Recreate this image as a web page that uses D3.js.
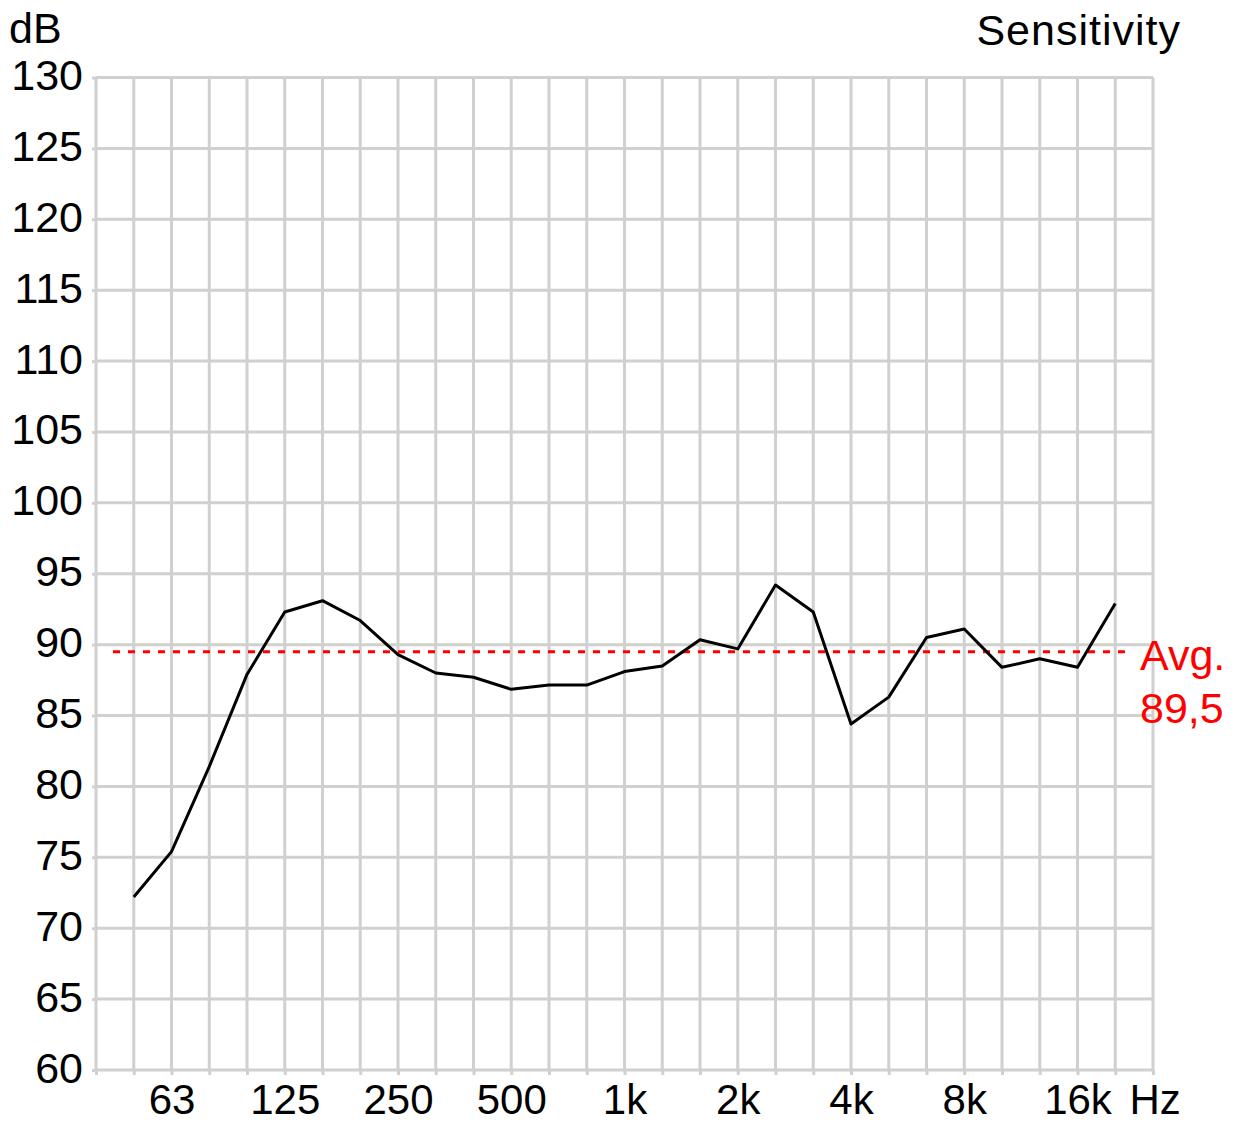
<!DOCTYPE html>
<html>
<head>
<meta charset="utf-8">
<script src="https://cdn.jsdelivr.net/npm/d3@7"></script>
<style>
  html, body { margin: 0; padding: 0; background: #fff; }
  svg { display: block; font-family: "Liberation Sans", Arial, sans-serif; }
</style>
</head>
<body>
<svg id="chart" width="1236" height="1124"></svg>
<script>
// 1/3-octave band names, index 0 (40 Hz) .. 28 (25 kHz) are the plot edges
const bands = ["40","50","63","80","100","125","160","200","250","315","400","500","630","800",
  "1k","1.25k","1.6k","2k","2.5k","3.15k","4k","5k","6.3k","8k","10k","12.5k","16k","20k","25k"];
// measured sensitivity (dB) from 50 Hz to 20 kHz
const measuredBands = ["50","63","80","100","125","160","200","250","315","400","500","630","800",
  "1k","1.25k","1.6k","2k","2.5k","3.15k","4k","5k","6.3k","8k","10k","12.5k","16k","20k"];
const sensitivity = [72.2, 75.4, 81.4, 87.9, 92.3, 93.1, 91.7, 89.3, 88.0, 87.7, 86.85, 87.15, 87.15,
  88.1, 88.5, 90.35, 89.7, 94.2, 92.3, 84.4, 86.3, 90.5, 91.1, 88.4, 89.0, 88.4, 92.9];
const xTickLabels = ["63","125","250","500","1k","2k","4k","8k","16k"];
const yTicks = [60,65,70,75,80,85,90,95,100,105,110,115,120,125,130];
const average = 89.5;
const avgLabel = ["Avg.", "89,5"];

const svg = d3.select("#chart");
const M = { left: 96, right: 1153, top: 77.5, bottom: 1070 };
const x = d3.scaleLinear().domain([0, bands.length - 1]).range([M.left, M.right]);
const y = d3.scaleLinear().domain([60, 130]).range([M.bottom, M.top]);
const gridColor = "#d0d0d0";
const gridWidth = 3;
const fontSize = 43;

// grid
const grid = svg.append("g");
grid.selectAll("line.v").data(d3.range(bands.length)).enter().append("line")
  .attr("class", "v")
  .attr("x1", d => x(d)).attr("x2", d => x(d))
  .attr("y1", M.top).attr("y2", M.bottom)
  .attr("stroke", gridColor).attr("stroke-width", gridWidth);
grid.selectAll("line.h").data(yTicks).enter().append("line")
  .attr("class", "h")
  .attr("x1", M.left).attr("x2", M.right)
  .attr("y1", d => y(d)).attr("y2", d => y(d))
  .attr("stroke", gridColor).attr("stroke-width", gridWidth);

// x axis
const xAxis = d3.axisBottom(x)
  .tickValues(d3.range(bands.length))
  .tickSize(5)
  .tickFormat(i => xTickLabels.includes(bands[i]) ? bands[i] : "");
const gx = svg.append("g").attr("transform", `translate(0,${M.bottom})`).call(xAxis);
gx.select(".domain").remove();
gx.selectAll(".tick line").attr("stroke", gridColor).attr("stroke-width", gridWidth);
gx.selectAll(".tick text").attr("y", 44).attr("dy", 0)
  .attr("font-size", fontSize - 1).attr("fill", "#000")
  .attr("font-family", "Liberation Sans, Arial, sans-serif");
svg.append("text").attr("x", x(26) + 52).attr("y", M.bottom + 44)
  .attr("font-size", fontSize - 1).attr("fill", "#000").text("Hz");

// y axis
const yAxis = d3.axisLeft(y).tickValues(yTicks).tickSize(4).tickPadding(9);
const gy = svg.append("g").attr("transform", `translate(${M.left},0)`).call(yAxis);
gy.select(".domain").remove();
gy.selectAll(".tick line").attr("stroke", gridColor).attr("stroke-width", gridWidth);
gy.selectAll(".tick text").attr("dy", 12)
  .attr("font-size", fontSize).attr("fill", "#000")
  .attr("font-family", "Liberation Sans, Arial, sans-serif");

// titles
svg.append("text").attr("x", 9).attr("y", 43).attr("font-size", fontSize).attr("fill", "#000").text("dB");
svg.append("text").attr("x", 1181).attr("y", 45).attr("text-anchor", "end")
  .attr("letter-spacing", 1)
  .attr("font-size", fontSize).attr("fill", "#000").text("Sensitivity");

// average line
svg.append("line")
  .attr("x1", x(0.45)).attr("x2", x(27.35))
  .attr("y1", y(average)).attr("y2", y(average))
  .attr("stroke", "#ff0000").attr("stroke-width", 3)
  .attr("stroke-dasharray", "7,8");
svg.selectAll("text.avg").data(avgLabel).enter().append("text")
  .attr("class", "avg")
  .attr("x", 1140).attr("y", (d, i) => 670 + i * 53)
  .attr("font-size", fontSize).attr("fill", "#ff0000").text(d => d);

// measured curve
const line = d3.line()
  .x((d, i) => x(bands.indexOf(measuredBands[i])))
  .y(d => y(d));
svg.append("path").datum(sensitivity)
  .attr("d", line).attr("fill", "none")
  .attr("stroke", "#000").attr("stroke-width", 3)
  .attr("stroke-linejoin", "round");
</script>
</body>
</html>
